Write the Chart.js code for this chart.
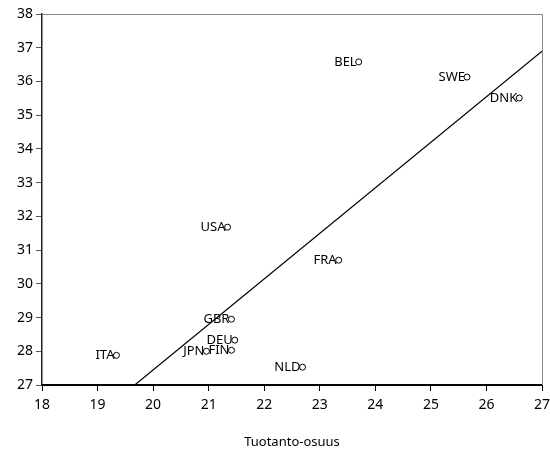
<!DOCTYPE html>
<html><head><meta charset="utf-8">
<script src="https://cdn.jsdelivr.net/npm/chart.js@4"></script>
<style>html,body{margin:0;padding:0;background:#fff}#w{width:550px;height:450px}</style>
</head><body><div id="w"><canvas id="c"></canvas></div>
<script>
const countries = ["BEL","SWE","DNK","USA","FRA","GBR","DEU","FIN","JPN","ITA","NLD"];
const xValues = [23.70, 25.65, 26.59, 21.34, 23.34, 21.41, 21.47, 21.41, 20.96, 19.34, 22.69];
const yValues = [36.58, 36.13, 35.51, 31.68, 30.70, 28.95, 28.33, 28.03, 28.00, 27.88, 27.53];
const fitX = [19.67, 27];
const fitY = [27, 36.9];
const xTicks = [18,19,20,21,22,23,24,25,26,27];
const yTicks = [27,28,29,30,31,32,33,34,35,36,37,38];
const FONT = "'Noto Sans', sans-serif";

const labelPlugin = {
  id: 'labels',
  afterDatasetsDraw(chart) {
    const ctx = chart.ctx, xs = chart.scales.x, ys = chart.scales.y;
    ctx.save();
    ctx.font = "13px " + FONT;
    ctx.fillStyle = "#000";
    ctx.textAlign = "right";
    ctx.textBaseline = "middle";
    countries.forEach((c, i) => {
      ctx.fillText(c, xs.getPixelForValue(xValues[i]) - 2, ys.getPixelForValue(yValues[i]));
    });
    const a = chart.chartArea;
    ctx.strokeStyle = "#888"; ctx.lineWidth = 1;
    ctx.beginPath();
    ctx.moveTo(a.left, a.top + 0.5); ctx.lineTo(a.right + 0.5, a.top + 0.5); ctx.lineTo(a.right + 0.5, a.bottom);
    ctx.stroke();
    ctx.restore();
  }
};

new Chart(document.getElementById('c'), {
  type: 'scatter',
  data: {
    datasets: [
      { data: xValues.map((x, i) => ({x, y: yValues[i]})), pointRadius: 3, pointBackgroundColor: '#fff', pointBorderColor: '#000', pointBorderWidth: 1, showLine: false },
      { type: 'line', data: fitX.map((x, i) => ({x, y: fitY[i]})), borderColor: '#000', borderWidth: 1.2, pointRadius: 0, fill: false }
    ]
  },
  options: {
    responsive: true, maintainAspectRatio: false, animation: false,
    layout: { padding: { top: 14, right: 8, left: 0, bottom: 0 } },
    plugins: { legend: { display: false }, tooltip: { enabled: false } },
    scales: {
      x: {
        type: 'linear', min: 18, max: 27,
        afterBuildTicks: s => { s.ticks = xTicks.map(v => ({value: v})); },
        afterFit: s => { s.height = 65; s.paddingRight = 0; s.paddingLeft = 0; },
        grid: { drawOnChartArea: false, tickLength: 6, color: '#000' },
        border: { color: '#000', width: 2 },
        ticks: { color: '#000', font: { family: FONT, size: 14 }, padding: 6, maxRotation: 0 },
        title: { display: true, text: 'Tuotanto-osuus', color: '#000', font: { family: FONT, size: 13 }, padding: { top: 0, bottom: 0 } }
      },
      y: {
        type: 'linear', min: 27, max: 38,
        afterBuildTicks: s => { s.ticks = yTicks.map(v => ({value: v})); },
        afterFit: s => { s.width = 42; },
        grid: { drawOnChartArea: false, tickLength: 6, color: '#555' },
        border: { color: '#222', width: 1.5 },
        ticks: { color: '#000', font: { family: FONT, size: 14 }, padding: 3 }
      }
    }
  },
  plugins: [labelPlugin]
});
</script>
</body></html>
